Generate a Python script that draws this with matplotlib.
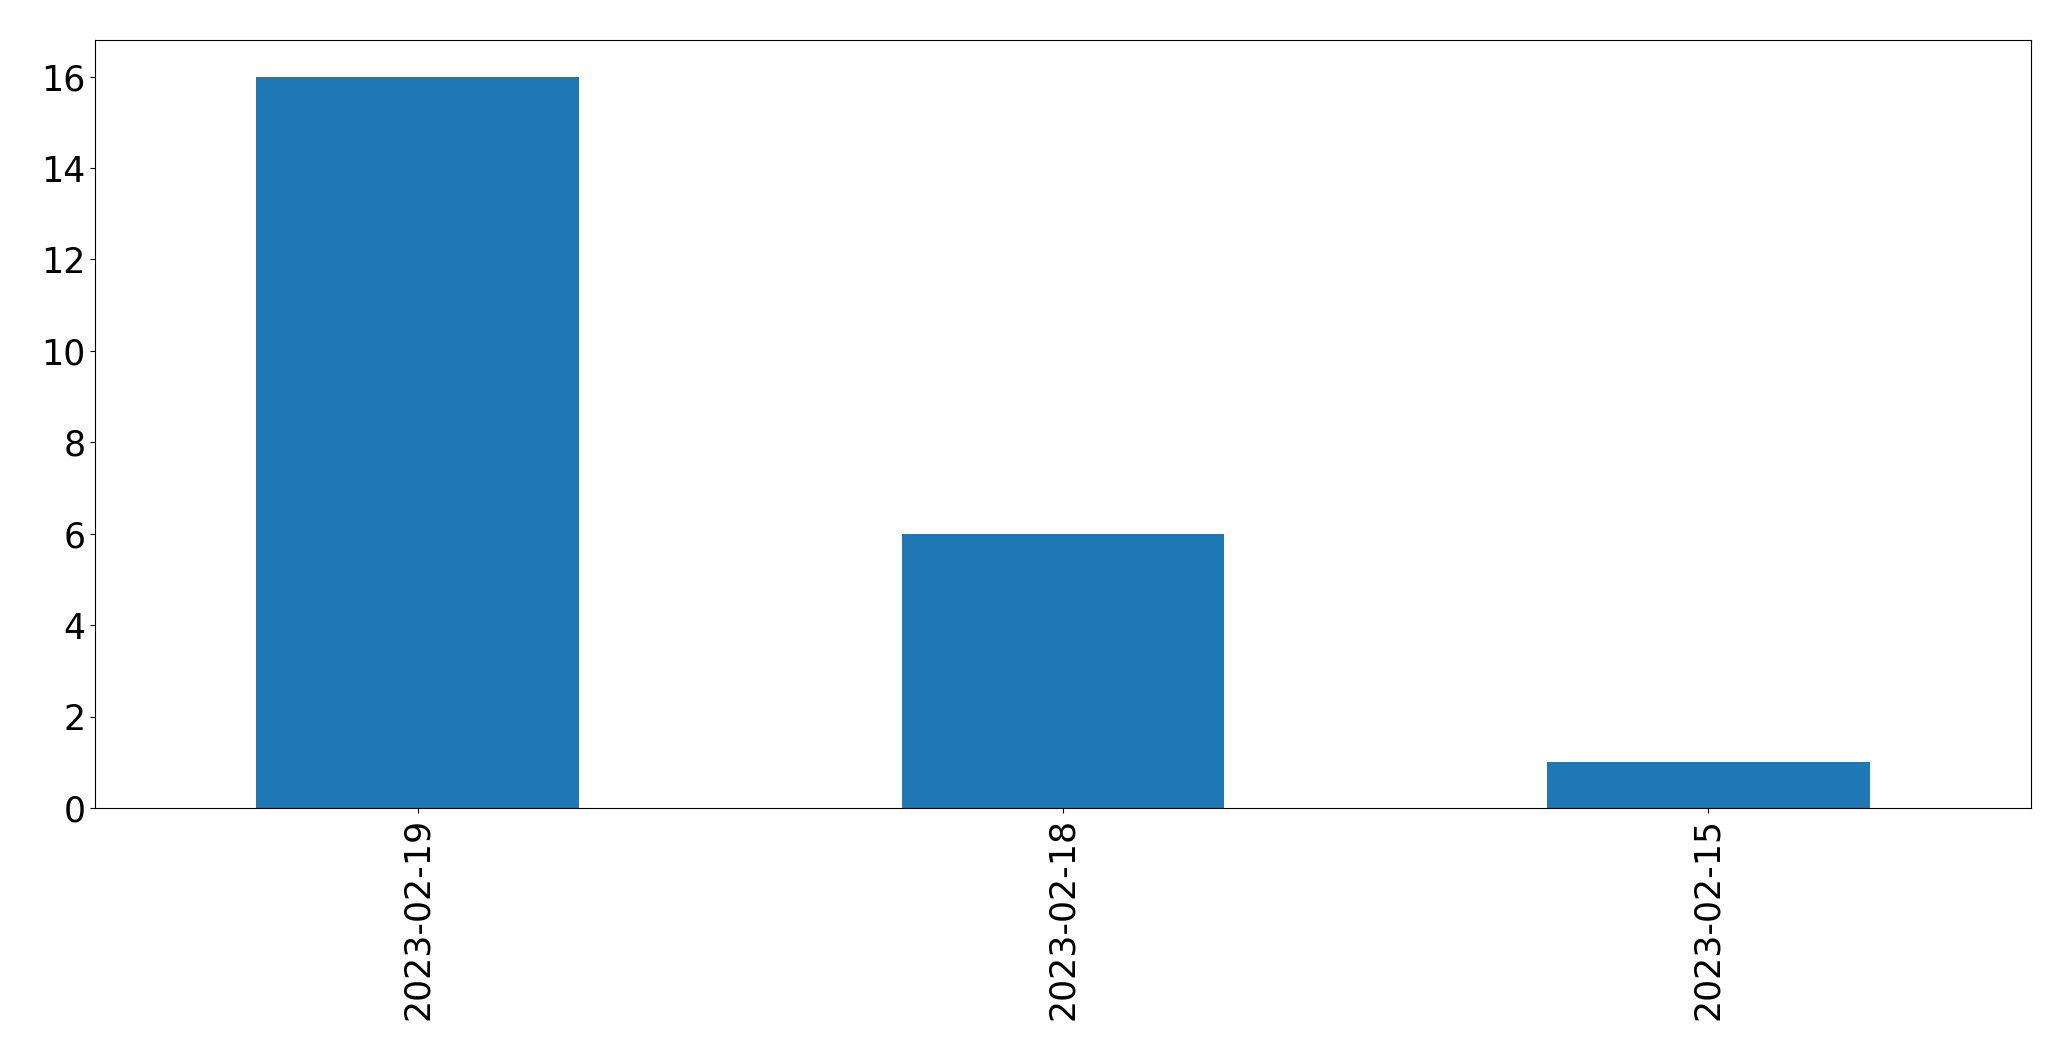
import matplotlib
matplotlib.use("Agg")
import matplotlib.pyplot as plt
import numpy as np

dates = ["2023-02-19", "2023-02-18", "2023-02-15"]
counts = [16, 6, 1]

fig = plt.figure(figsize=(20.71, 10.61), dpi=100)
ax = fig.add_axes([95 / 2071, 1 - 808 / 1061, (2031 - 95) / 2071, (808 - 40) / 1061])

x = np.arange(len(dates))
ax.bar(x, counts, width=0.5, color="#1f77b4")
ax.set_xlim(-0.5, len(dates) - 0.5)
ax.set_ylim(0, max(counts) * 1.05)
ax.set_xticks(x)
ax.set_xticklabels(dates, rotation=90)
ax.set_yticks(np.arange(0, 17, 2))
ax.tick_params(labelsize=25)

fig.savefig("out.png", dpi=100)
